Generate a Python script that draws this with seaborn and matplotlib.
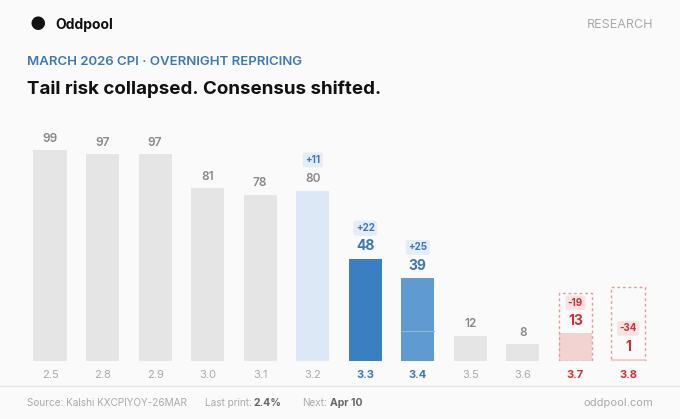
import matplotlib.pyplot as plt
import seaborn as sns
import pandas as pd
from matplotlib.patches import Rectangle

strikes = ['2.5', '2.8', '2.9', '3.0', '3.1', '3.2', '3.3', '3.4', '3.5', '3.6', '3.7', '3.8']
now = [99, 97, 97, 81, 78, 80, 48, 39, 12, 8, 13, 1]
change = [None, None, None, None, None, 11, 22, 25, None, None, -19, -34]

GREY = '#e5e5e5'
colors = [GREY] * 5 + ['#dde8f6', '#3b7fc3', '#5f9bd0', GREY, GREY, '#f3d2d2', '#f3d2d2']
lab_col = ['#888888'] * 6 + ['#3a78bd', '#3a78bd', '#888888', '#888888', '#cc3333', '#cc3333']
tick_col = ['#aaaaaa'] * 6 + ['#3a78bd', '#3a78bd', '#aaaaaa', '#aaaaaa', '#cc3333', '#cc3333']

BG = '#fafafa'
sns.set_theme(style='white')
plt.rcParams['font.family'] = ['Inter', 'DejaVu Sans']

fig = plt.figure(figsize=(6.8, 4.19), dpi=100, facecolor=BG)
ax = fig.add_axes([23.75 / 680, 0.138, (654.25 - 23.75) / 680, 0.698 - 0.138])
ax.set_facecolor(BG)

df = pd.DataFrame({'strike': strikes, 'now': now})
sns.barplot(data=df, x='strike', y='now', hue='strike', palette=colors,
            legend=False, width=0.63, ax=ax, saturation=1, linewidth=0)
ax.set_xlim(-0.5, len(strikes) - 0.5)
ax.set_ylim(0, 110)
for s in ax.spines.values():
    s.set_visible(False)
ax.set_yticks([])
ax.set_xlabel('')
ax.set_ylabel('')
ax.tick_params(axis='x', length=0, pad=6)
for t, c in zip(ax.get_xticklabels(), tick_col):
    t.set_color(c)
    t.set_fontsize(8)
    if c != '#aaaaaa':
        t.set_fontweight('bold')

for i, v in enumerate(now):
    ch = change[i]
    prior = v - ch if ch is not None else None
    if ch is not None and ch < 0:
        ax.add_patch(Rectangle((i - 0.315, 0), 0.63, prior, fill=False, ec='#e79a9a',
                               ls=(0, (2, 2)), lw=1))
    elif ch is not None and i == 7:
        ax.plot([i - 0.315, i + 0.315], [prior, prior], color='#8bb6df', lw=0.8)
    big = ch is not None and i != 5
    ax.text(i, v + 2.5, str(v), ha='center', va='bottom', color=lab_col[i],
            fontsize=10 if big else 8.5, fontweight='bold' if big else 'semibold')
    if ch is not None:
        fc = '#fbe3e3' if ch < 0 else '#e3ecf7'
        tc = '#cc3333' if ch < 0 else '#3a78bd'
        ax.text(i, v + 12, f'{ch:+d}', ha='center', va='bottom', color=tc,
                fontsize=7, fontweight='bold',
                bbox=dict(boxstyle='round,pad=0.25', fc=fc, ec='none'))

fig.text(30 / 680, 1 - 25 / 419, '\u25cf', fontsize=13, color='#111111', va='center')
fig.text(55 / 680, 1 - 25 / 419, 'Oddpool', fontsize=10, fontweight='bold', color='#111111', va='center')
fig.text(653 / 680, 1 - 25 / 419, 'RESEARCH', fontsize=9, color='#aaaaaa', va='center', ha='right')
fig.text(27 / 680, 1 - 62 / 419, 'MARCH 2026 CPI · OVERNIGHT REPRICING', fontsize=9.5,
         color='#3a78bd', va='center', fontweight='semibold')
fig.text(27 / 680, 1 - 89 / 419, 'Tail risk collapsed. Consensus shifted.', fontsize=13.5,
         color='#111111', va='center', fontweight='bold')

fig.add_artist(plt.Line2D([0, 1], [1 - 386 / 419] * 2, color='#e6e6e6', lw=1))
fy = 1 - 403 / 419
fig.text(27 / 680, fy, 'Source: Kalshi KXCPIYOY-26MAR', fontsize=7.2, color='#aaaaaa', va='center')
fig.text(205 / 680, fy, 'Last print:', fontsize=7.2, color='#aaaaaa', va='center')
fig.text(253 / 680, fy, '2.4%', fontsize=7.5, color='#666666', va='center', fontweight='bold')
fig.text(302 / 680, fy, 'Next:', fontsize=7.2, color='#aaaaaa', va='center')
fig.text(330 / 680, fy, 'Apr 10', fontsize=7.5, color='#666666', va='center', fontweight='bold')
fig.text(653 / 680, fy, 'oddpool.com', fontsize=8, color='#aaaaaa', va='center', ha='right')

fig.savefig('out.png', dpi=100, facecolor=BG)
